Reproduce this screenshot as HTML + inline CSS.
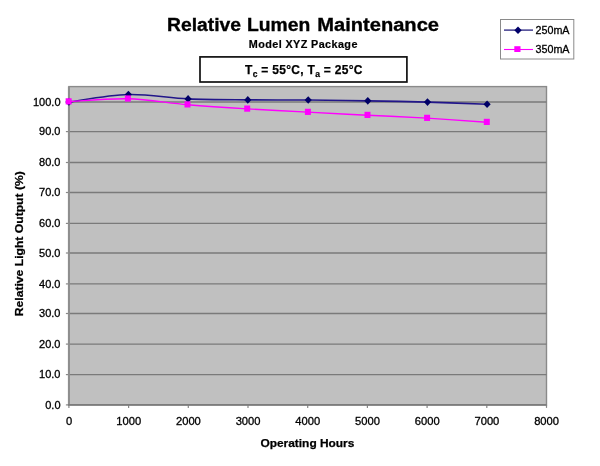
<!DOCTYPE html>
<html><head><meta charset="utf-8"><style>
html,body{margin:0;padding:0;background:#fff;width:600px;height:466px;overflow:hidden}
svg{display:block;will-change:transform}
text{font-family:"Liberation Sans",sans-serif;fill:#000}
</style></head><body>
<svg width="600" height="466" viewBox="0 0 600 466">
<rect x="0" y="0" width="600" height="466" fill="#fff"/>
<g font-size="19.2" font-weight="bold" stroke="#000" stroke-width="0.35">
<text x="167" y="31.1" textLength="74" lengthAdjust="spacingAndGlyphs">Relative</text>
<text x="246.9" y="31.1" textLength="63.3" lengthAdjust="spacingAndGlyphs">Lumen</text>
<text x="317.3" y="31.1" textLength="121.7" lengthAdjust="spacingAndGlyphs">Maintenance</text>
</g>
<text x="248.8" y="47.9" font-size="10.8" font-weight="bold" stroke="#000" stroke-width="0.2" textLength="108.6" lengthAdjust="spacing">Model XYZ Package</text>
<rect x="200" y="56.9" width="206.9" height="25.1" fill="#fff" stroke="#111" stroke-width="1.7"/>
<text x="245" y="74.1" font-size="12" font-weight="bold" stroke="#000" stroke-width="0.25" letter-spacing="0.3">T<tspan font-size="8.5" dy="2.7">c</tspan><tspan dy="-2.7"> = 55°C, T</tspan><tspan font-size="8.5" dy="2.7">a</tspan><tspan dy="-2.7"> = 25°C</tspan></text>
<rect x="500.5" y="19.5" width="73.3" height="39.5" fill="#fff" stroke="#8a8a8a" stroke-width="1"/>
<line x1="504" y1="30.1" x2="533" y2="30.1" stroke="#26207e" stroke-width="1.3"/>
<path d="M518,26.4 l3.7,3.8 l-3.7,3.8 l-3.7,-3.8z" fill="#00006a"/>
<line x1="504" y1="49.5" x2="533" y2="49.5" stroke="#ff00ff" stroke-width="1.1"/>
<rect x="514.3" y="46.2" width="6.2" height="5.8" fill="#ff00ff"/>
<text x="535.5" y="33.7" font-size="11" stroke="#000" stroke-width="0.3" textLength="34" lengthAdjust="spacingAndGlyphs">250mA</text>
<text x="535.5" y="52.9" font-size="11" stroke="#000" stroke-width="0.3" textLength="34" lengthAdjust="spacingAndGlyphs">350mA</text>
<rect x="68.9" y="86.6" width="477.60" height="318.30" fill="#c0c0c0" stroke="#8a8a8a" stroke-width="1.4"/>
<g stroke="#7a7a7a" stroke-width="1.3"><line x1="68.90" y1="374.60" x2="546.50" y2="374.60"/><line x1="68.90" y1="344.10" x2="546.50" y2="344.10"/><line x1="68.90" y1="313.50" x2="546.50" y2="313.50"/><line x1="68.90" y1="283.90" x2="546.50" y2="283.90"/><line x1="68.90" y1="253.00" x2="546.50" y2="253.00"/><line x1="68.90" y1="223.40" x2="546.50" y2="223.40"/><line x1="68.90" y1="192.50" x2="546.50" y2="192.50"/><line x1="68.90" y1="162.50" x2="546.50" y2="162.50"/><line x1="68.90" y1="131.60" x2="546.50" y2="131.60"/><line x1="68.90" y1="102.00" x2="546.50" y2="102.00"/></g>
<g stroke="#888" stroke-width="1.2"><line x1="65.90" y1="404.90" x2="68.90" y2="404.90"/><line x1="65.90" y1="374.60" x2="68.90" y2="374.60"/><line x1="65.90" y1="344.10" x2="68.90" y2="344.10"/><line x1="65.90" y1="313.50" x2="68.90" y2="313.50"/><line x1="65.90" y1="283.90" x2="68.90" y2="283.90"/><line x1="65.90" y1="253.00" x2="68.90" y2="253.00"/><line x1="65.90" y1="223.40" x2="68.90" y2="223.40"/><line x1="65.90" y1="192.50" x2="68.90" y2="192.50"/><line x1="65.90" y1="162.50" x2="68.90" y2="162.50"/><line x1="65.90" y1="131.60" x2="68.90" y2="131.60"/><line x1="65.90" y1="102.00" x2="68.90" y2="102.00"/><line x1="68.90" y1="404.90" x2="68.90" y2="407.90"/><line x1="128.60" y1="404.90" x2="128.60" y2="407.90"/><line x1="188.30" y1="404.90" x2="188.30" y2="407.90"/><line x1="248.00" y1="404.90" x2="248.00" y2="407.90"/><line x1="307.70" y1="404.90" x2="307.70" y2="407.90"/><line x1="367.40" y1="404.90" x2="367.40" y2="407.90"/><line x1="427.10" y1="404.90" x2="427.10" y2="407.90"/><line x1="486.80" y1="404.90" x2="486.80" y2="407.90"/><line x1="546.50" y1="404.90" x2="546.50" y2="407.90"/></g>
<line x1="68.9" y1="86.6" x2="68.9" y2="404.9" stroke="#8e8e8e" stroke-width="2"/>
<line x1="67.9" y1="404.9" x2="546.5" y2="404.9" stroke="#7c7c7c" stroke-width="1.8"/>
<g font-size="11" text-anchor="end" stroke="#000" stroke-width="0.3"><text x="60.5" y="408.70">0.0</text><text x="60.5" y="378.40">10.0</text><text x="60.5" y="347.90">20.0</text><text x="60.5" y="317.30">30.0</text><text x="60.5" y="287.70">40.0</text><text x="60.5" y="256.80">50.0</text><text x="60.5" y="227.20">60.0</text><text x="60.5" y="196.30">70.0</text><text x="60.5" y="166.30">80.0</text><text x="60.5" y="135.40">90.0</text><text x="60.5" y="105.80">100.0</text></g>
<g font-size="11.2" text-anchor="middle" stroke="#000" stroke-width="0.3"><text x="69.00" y="424.5">0</text><text x="128.70" y="424.5">1000</text><text x="188.40" y="424.5">2000</text><text x="248.10" y="424.5">3000</text><text x="307.80" y="424.5">4000</text><text x="367.50" y="424.5">5000</text><text x="427.20" y="424.5">6000</text><text x="486.90" y="424.5">7000</text><text x="546.60" y="424.5">8000</text></g>
<text x="260.4" y="447.2" font-size="11.5" font-weight="bold" stroke="#000" stroke-width="0.25" textLength="94" lengthAdjust="spacingAndGlyphs">Operating Hours</text>
<text transform="translate(22.6,316.2) rotate(-90)" font-size="11.5" font-weight="bold" stroke="#000" stroke-width="0.25" textLength="145" lengthAdjust="spacingAndGlyphs">Relative Light Output (%)</text>
<path d="M68.90,101.90 C78.82,100.67 108.53,95.00 128.40,94.50 C148.27,94.00 168.20,98.00 188.10,98.90 C208.00,99.80 227.78,99.73 247.80,99.90 C267.82,100.08 288.20,99.79 308.20,99.95 C328.20,100.11 347.92,100.49 367.80,100.85 C387.68,101.21 407.62,101.53 427.50,102.10 C447.38,102.67 477.17,103.89 487.10,104.25" fill="none" stroke="#22168a" stroke-width="1.6"/>
<g fill="#000066"><path d="M68.90,98.10 l3.6,3.8 l-3.6,3.8 l-3.6,-3.8z"/><path d="M128.40,90.70 l3.6,3.8 l-3.6,3.8 l-3.6,-3.8z"/><path d="M188.10,95.10 l3.6,3.8 l-3.6,3.8 l-3.6,-3.8z"/><path d="M247.80,96.10 l3.6,3.8 l-3.6,3.8 l-3.6,-3.8z"/><path d="M308.20,96.15 l3.6,3.8 l-3.6,3.8 l-3.6,-3.8z"/><path d="M367.80,97.05 l3.6,3.8 l-3.6,3.8 l-3.6,-3.8z"/><path d="M427.50,98.30 l3.6,3.8 l-3.6,3.8 l-3.6,-3.8z"/><path d="M487.10,100.45 l3.6,3.8 l-3.6,3.8 l-3.6,-3.8z"/></g>
<path transform="translate(0,0.3)" d="M68.65,101.35 C78.53,100.88 108.09,97.99 127.90,98.50 C147.71,99.01 167.62,102.72 187.50,104.40 C207.38,106.08 227.13,107.36 247.20,108.60 C267.27,109.84 287.85,110.80 307.90,111.85 C327.95,112.90 347.63,113.90 367.50,114.90 C387.37,115.90 407.22,116.68 427.10,117.85 C446.98,119.02 476.85,121.23 486.80,121.90" fill="none" stroke="#ff00ff" stroke-width="1.4"/>
<g fill="#ff00ff"><rect x="65.65" y="98.25" width="6" height="6.2"/><rect x="124.90" y="95.40" width="6" height="6.2"/><rect x="184.50" y="101.30" width="6" height="6.2"/><rect x="244.20" y="105.50" width="6" height="6.2"/><rect x="304.90" y="108.75" width="6" height="6.2"/><rect x="364.50" y="111.80" width="6" height="6.2"/><rect x="424.10" y="114.75" width="6" height="6.2"/><rect x="483.80" y="118.80" width="6" height="6.2"/></g>
</svg>
</body></html>
